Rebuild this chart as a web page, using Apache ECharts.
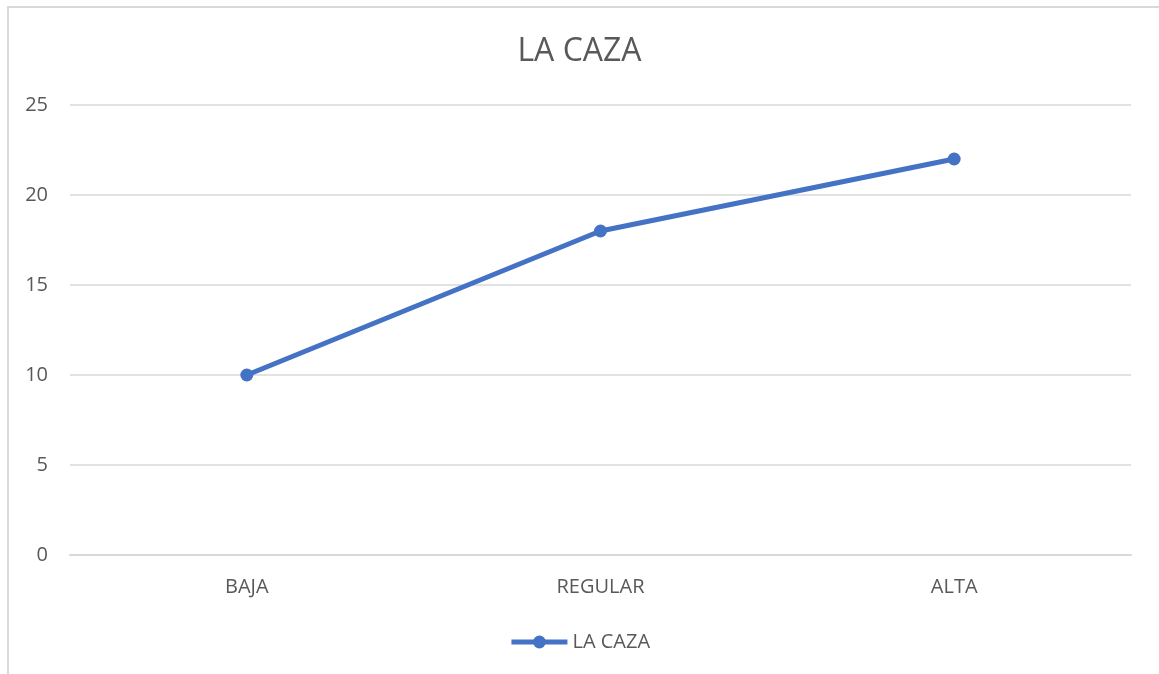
<!DOCTYPE html>
<html>
<head>
<meta charset="utf-8">
<script src="https://cdn.jsdelivr.net/npm/echarts@6/dist/echarts.min.js"></script>
<style>
  html, body { margin: 0; padding: 0; background: #fff; }
  #frame {
    position: absolute; left: 7px; top: 6px; width: 1170px; height: 700px;
    border-left: 2px solid #d9d9d9; border-top: 2px solid #d9d9d9;
  }
  #chart { position: absolute; left: 0; top: 0; width: 1159px; height: 674px; }
</style>
</head>
<body>
<div id="frame"></div>
<div id="chart"></div>
<script>
const categories = ['BAJA', 'REGULAR', 'ALTA'];
const seriesName = 'LA CAZA';
const values = [10, 18, 22];

const chart = echarts.init(document.getElementById('chart'));
const font = '"Open Sans", "Liberation Sans", sans-serif';
chart.setOption({
  animation: false,
  title: {
    text: 'LA CAZA',
    left: 'center',
    top: 31,
    textStyle: { color: '#595959', fontSize: 32, fontWeight: 'normal', fontFamily: font }
  },
  legend: {
    bottom: 17,
    left: 'center',
    itemWidth: 56,
    itemHeight: 16,
    itemGap: 4,
    lineStyle: { width: 5 },
    textStyle: { color: '#595959', fontSize: 20, fontFamily: font },
    data: [seriesName]
  },
  grid: { left: 70, right: 28, top: 105, bottom: 119 },
  xAxis: {
    type: 'category',
    data: categories,
    axisLine: { show: true, lineStyle: { color: '#d9d9d9', width: 2 } },
    axisTick: { show: false },
    axisLabel: { color: '#595959', fontSize: 20, margin: 22, fontFamily: font }
  },
  yAxis: {
    type: 'value',
    min: 0,
    max: 25,
    interval: 5,
    axisLine: { show: false },
    axisTick: { show: false },
    axisLabel: { color: '#595959', fontSize: 20, margin: 22, fontFamily: font },
    splitLine: { lineStyle: { color: '#d9d9d9', width: 1.5 } }
  },
  series: [{
    name: seriesName,
    type: 'line',
    data: values,
    symbol: 'circle',
    symbolSize: 13,
    lineStyle: { color: '#4472C4', width: 5 },
    itemStyle: { color: '#4472C4' }
  }]
});
</script>
</body>
</html>
